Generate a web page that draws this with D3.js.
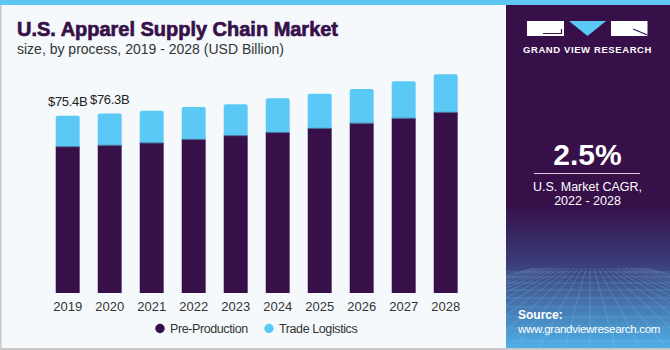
<!DOCTYPE html>
<html>
<head>
<meta charset="utf-8">
<script src="https://cdn.jsdelivr.net/npm/d3@7"></script>
<style>
  html, body { margin: 0; padding: 0; background: #f5f9fc; }
  svg { display: block; font-family: "Liberation Sans", Arial, sans-serif; }
</style>
</head>
<body>
<svg id="chart"></svg>
<script>
// data (USD billion)
const years = ['2019', '2020', '2021', '2022', '2023', '2024', '2025', '2026', '2027', '2028'];
const preProduction = [62.2, 62.8, 63.8, 65.3, 66.9, 68.2, 70.0, 72.2, 74.3, 76.8];
const tradeLogistics = [13.2, 13.5, 13.7, 13.8, 13.3, 14.6, 14.7, 14.5, 15.7, 16.2];
const valueLabels = ['$75.4B', '$76.3B'];
const seriesNames = ['Pre-Production', 'Trade Logistics'];
const colors = ['#37104a', '#5bc9f6'];

const W = 670, H = 350;
const svg = d3.select('#chart').attr('width', W).attr('height', H);

// background + frame
svg.append('rect').attr('width', W).attr('height', H).attr('fill', '#f5f9fc');
svg.append('rect').attr('x', 0).attr('y', 0).attr('width', W).attr('height', 5).attr('fill', '#5ec6f0');
svg.append('rect').attr('x', 0).attr('y', 5).attr('width', 1.5).attr('height', H - 5).attr('fill', '#c8c8c8');
svg.append('rect').attr('x', 0).attr('y', H - 2).attr('width', W).attr('height', 2).attr('fill', '#c8c8c8');

// title
svg.append('text')
    .attr('x', 17).attr('y', 35.5)
    .style('font-size', '21px').style('font-weight', 'bold')
    .attr('stroke', '#37104a').attr('stroke-width', 0.7)
    .attr('textLength', 321).attr('lengthAdjust', 'spacingAndGlyphs')
    .attr('fill', '#37104a')
    .text('U.S. Apparel Supply Chain Market');
svg.append('text')
    .attr('x', 17).attr('y', 54)
    .style('font-size', '14px')
    .attr('fill', '#333')
    .text('size, by process, 2019 - 2028 (USD Billion)');

// scales
const x = d3.scaleBand()
    .domain(years)
    .range([46.7, 466.7])
    .paddingInner(0.43)
    .paddingOuter(0.215);
const y = d3.scaleLinear()
    .domain([0, 100])
    .range([293, 57.8]);

const rows = years.map((yr, i) => ({ year: yr, pre: preProduction[i], trade: tradeLogistics[i] }));
const stack = d3.stack().keys(['pre', 'trade'])(rows);

const chart = svg.append('g');
stack.forEach((layer, li) => {
    chart.selectAll(null)
        .data(layer)
        .enter()
        .append('path')
        .attr('fill', colors[li])
        .attr('d', d => {
            const x0 = x(d.data.year), w = x.bandwidth();
            const top = y(d[1]), bot = y(d[0]);
            const r = li === 1 ? 2 : 0;
            return `M${x0},${bot}V${top + r}Q${x0},${top} ${x0 + r},${top}H${x0 + w - r}Q${x0 + w},${top} ${x0 + w},${top + r}V${bot}Z`;
        });
});
// thin separator between segments
chart.selectAll(null)
    .data(stack[0])
    .enter()
    .append('line')
    .attr('x1', d => x(d.data.year)).attr('x2', d => x(d.data.year) + x.bandwidth())
    .attr('y1', d => y(d[1])).attr('y2', d => y(d[1]))
    .attr('stroke', '#4a6a95').attr('stroke-width', 1);

// value labels on first two bars
chart.selectAll(null)
    .data(valueLabels)
    .enter()
    .append('text')
    .attr('x', (d, i) => x(years[i]) + x.bandwidth() / 2)
    .attr('y', (d, i) => y(preProduction[i] + tradeLogistics[i]) - 9.5)
    .attr('text-anchor', 'middle')
    .style('font-size', '13px')
    .style('letter-spacing', '-0.3px')
    .attr('fill', '#222')
    .text(d => d);

// x axis
const xaxis = d3.axisBottom(x).tickSize(0).tickPadding(6);
const xg = svg.append('g').attr('transform', 'translate(0,296)').call(xaxis);
xg.select('.domain').remove();
xg.selectAll('text').style('font-size', '13px').style('font-family', '"Liberation Sans", Arial, sans-serif').attr('fill', '#333');

// legend
const legendX = [160, 269];
const legend = svg.append('g');
seriesNames.forEach((name, i) => {
    legend.append('circle').attr('cx', legendX[i]).attr('cy', 328.5).attr('r', 4.7).attr('fill', colors[i]);
    legend.append('text')
        .attr('x', legendX[i] + 10).attr('y', 333)
        .style('font-size', '12.5px').style('letter-spacing', '-0.4px')
        .attr('fill', '#333').text(name);
});

// right panel
const px = 506, pw = W - px;
const defs = svg.append('defs');
const grad = defs.append('linearGradient').attr('id', 'panelGrad').attr('x1', 0).attr('y1', 0).attr('x2', 0).attr('y2', 1);
grad.append('stop').attr('offset', '0%').attr('stop-color', '#37104a');
grad.append('stop').attr('offset', '58%').attr('stop-color', '#37104a');
grad.append('stop').attr('offset', '75%').attr('stop-color', '#3a3c78');
grad.append('stop').attr('offset', '100%').attr('stop-color', '#4fb0e6');
defs.append('clipPath').attr('id', 'panelClip')
    .append('rect').attr('x', px).attr('y', 5).attr('width', pw).attr('height', H - 7);

const panel = svg.append('g');
panel.append('rect').attr('x', px).attr('y', 5).attr('width', pw).attr('height', H - 7).attr('fill', 'url(#panelGrad)');

// perspective grid at the bottom of the panel
const grid = panel.append('g').attr('clip-path', 'url(#panelClip)')
    .attr('stroke', '#a8def8').attr('stroke-width', 0.6).attr('fill', 'none');
const horizon = 268, vx = 590;
d3.range(-14, 15).forEach(k => {
    grid.append('line').attr('x1', vx + k * 4).attr('y1', horizon)
        .attr('x2', vx + k * 26).attr('y2', H).attr('stroke-opacity', 0.35);
});
[272, 277, 283, 290, 298, 307, 317, 328, 341].forEach(gy => {
    grid.append('line').attr('x1', px).attr('x2', W).attr('y1', gy).attr('y2', gy)
        .attr('stroke-opacity', 0.3);
});

// logo
const logo = panel.append('g');
logo.append('rect').attr('x', 527).attr('y', 21).attr('width', 37).attr('height', 15).attr('fill', '#fff');
logo.append('path').attr('d', 'M543,33.5H561.5V29').attr('stroke', '#37104a').attr('stroke-width', 1.2).attr('fill', 'none');
logo.append('path').attr('d', 'M569,21H606L587.5,36Z').attr('fill', '#5bc9f6');
logo.append('rect').attr('x', 611).attr('y', 21).attr('width', 36.5).attr('height', 15).attr('fill', '#fff');
logo.append('path').attr('d', 'M633,29L647.5,35').attr('stroke', '#37104a').attr('stroke-width', 1.2).attr('fill', 'none');
logo.append('text').attr('x', 587.5).attr('y', 53).attr('text-anchor', 'middle')
    .style('font-size', '9.5px').style('font-weight', 'bold').style('letter-spacing', '0.6px')
    .attr('fill', '#fff').text('GRAND VIEW RESEARCH');

// CAGR block
panel.append('text').attr('x', 587.5).attr('y', 165).attr('text-anchor', 'middle')
    .style('font-size', '30px').style('font-weight', 'bold').attr('fill', '#fff').text('2.5%');
panel.append('line').attr('x1', 534).attr('x2', 640).attr('y1', 173.5).attr('y2', 173.5)
    .attr('stroke', '#d8cfe0').attr('stroke-width', 1);
panel.append('text').attr('x', 587.5).attr('y', 191).attr('text-anchor', 'middle')
    .style('font-size', '12.5px').attr('fill', '#fff').text('U.S. Market CAGR,');
panel.append('text').attr('x', 587.5).attr('y', 205).attr('text-anchor', 'middle')
    .style('font-size', '12.5px').attr('fill', '#fff').text('2022 - 2028');

// source
panel.append('text').attr('x', 518).attr('y', 319)
    .style('font-size', '12px').style('font-weight', 'bold').attr('fill', '#fff').text('Source:');
panel.append('text').attr('x', 518).attr('y', 333)
    .style('font-size', '11.5px').style('letter-spacing', '-0.3px').attr('fill', '#fff').text('www.grandviewresearch.com');
</script>
</body>
</html>
